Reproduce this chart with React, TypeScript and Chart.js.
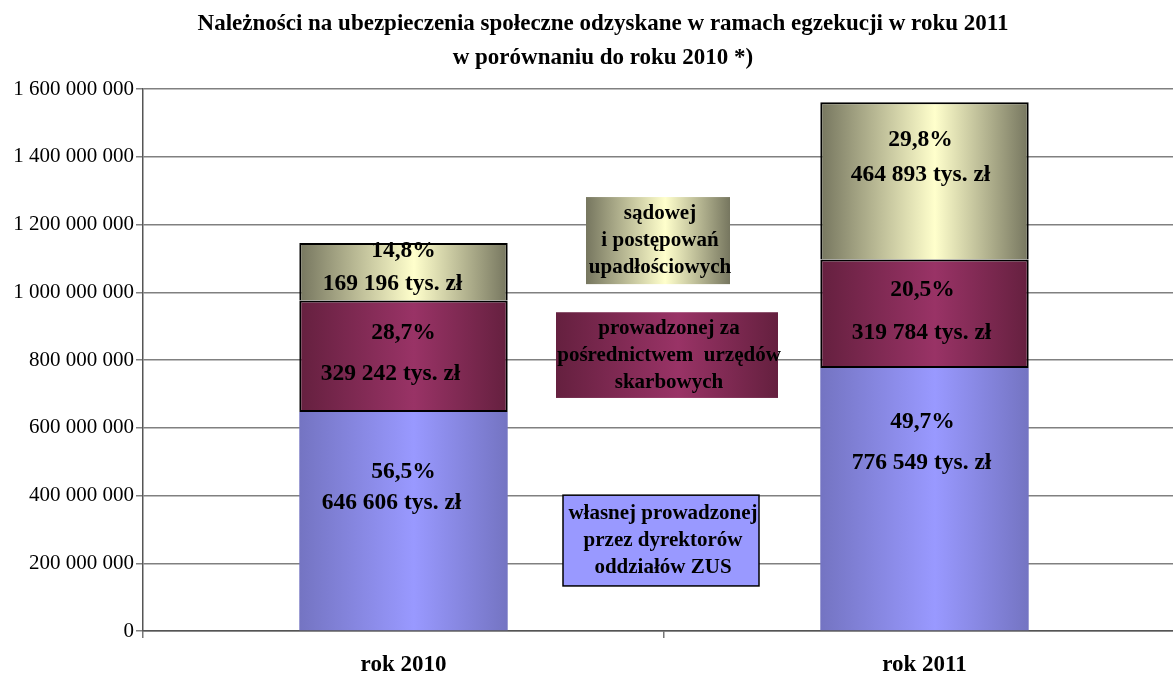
import React, { useEffect, useRef } from 'react';
import { Chart, registerables } from 'chart.js';

Chart.register(...registerables);

const titleLines = [
  'Należności na ubezpieczenia społeczne odzyskane w ramach egzekucji w roku 2011',
  'w porównaniu do roku 2010 *)',
];
const categories = ['rok 2010', 'rok 2011'];
const seriesNames = [
  ['własnej prowadzonej', 'przez dyrektorów', 'oddziałów ZUS'],
  ['prowadzonej za', 'pośrednictwem  urzędów', 'skarbowych'],
  ['sądowej', 'i postępowań', 'upadłościowych'],
];
// values in zł
const ownValues = [646606000, 776549000];
const taxOfficeValues = [329242000, 319784000];
const courtValues = [169196000, 464893000];
// percentage labels as printed
const ownPct = ['56,5%', '49,7%'];
const taxOfficePct = ['28,7%', '20,5%'];
const courtPct = ['14,8%', '29,8%'];
const yMax = 1600000000;
const yStep = 200000000;

const FONT = '"Liberation Serif", "Times New Roman", serif';

const groupDigits = (v: number) => String(Math.round(v)).replace(/\B(?=(\d{3})+(?!\d))/g, ' ');
const thousandsLabel = (v: number) => `${groupDigits(v / 1000)} tys. zł`;

// label layout per dataset per category: [dy from segment center, gap between lines, dx pct, dx value]
const labelLayout = [
  [[-34, 31, 0, -12], [-57, 41, -2, -3]],
  [[-3, 41, 0, -13], [-2, 43, -2, -3]],
  [[-4, 33, 0, -11], [-23, 35, -4, -4]],
];

const palette = [
  { light: '#9999FF', dark: '#7474C2' },
  { light: '#993366', dark: '#65203F' },
  { light: '#FFFFCC', dark: '#76765F' },
];

function barGradient(ctx: any, idx: number) {
  const chart = ctx.chart;
  const xs = chart.scales && chart.scales.x;
  const p = palette[idx];
  if (!xs || ctx.dataIndex === undefined || !xs.width) return p.light;
  const c = xs.getPixelForValue(ctx.dataIndex);
  const w = (xs.width / categories.length) * 0.4;
  const g = chart.ctx.createLinearGradient(c - w / 2, 0, c + w / 2, 0);
  g.addColorStop(0, p.dark);
  g.addColorStop(0.55, p.light);
  g.addColorStop(1, p.dark);
  return g;
}

const titleDraw = {
  id: 'titleDraw',
  afterDraw(chart: any) {
    const ctx = chart.ctx;
    ctx.save();
    ctx.font = `bold 23px ${FONT}`;
    ctx.fillStyle = '#000';
    ctx.textAlign = 'center';
    ctx.textBaseline = 'middle';
    const cx = chart.width / 2 + 8;
    titleLines.forEach((t, k) => ctx.fillText(t, cx, 24 + k * 34));
    ctx.restore();
  },
};

const segmentLabels = {
  id: 'segmentLabels',
  afterDatasetsDraw(chart: any) {
    const ctx = chart.ctx;
    const pcts = [ownPct, taxOfficePct, courtPct];
    ctx.save();
    ctx.font = `bold 23.5px ${FONT}`;
    ctx.fillStyle = '#000';
    ctx.textAlign = 'center';
    ctx.textBaseline = 'middle';
    chart.data.datasets.forEach((ds: any, di: number) => {
      const meta = chart.getDatasetMeta(di);
      meta.data.forEach((el: any, i: number) => {
        const [dy, gap, dxP, dxV] = labelLayout[di][i];
        const cy = (el.y + el.base) / 2 + dy;
        ctx.fillText(pcts[di][i], el.x + dxP, cy - gap / 2);
        ctx.fillText(thousandsLabel(ds.data[i]), el.x + dxV, cy + gap / 2);
      });
    });
    ctx.restore();
  },
};

// legend text boxes: [dx of center from category boundary, width, top value, bottom value]
const boxLayout = [
  [-3, 196, 401000000, 133000000],
  [3, 222, 941000000, 688000000],
  [-6, 144, 1281000000, 1024000000],
];

const legendBoxes = {
  id: 'legendBoxes',
  afterDraw(chart: any) {
    const ctx = chart.ctx;
    const xs = chart.scales.x;
    const ys = chart.scales.y;
    const mid = xs.getPixelForValue(0.5);
    ctx.save();
    boxLayout.forEach((b, i) => {
      const cx = mid + b[0];
      const w = b[1];
      const top = ys.getPixelForValue(b[2]);
      const bottom = ys.getPixelForValue(b[3]);
      const left = cx - w / 2;
      const p = palette[i];
      if (i === 0) {
        ctx.fillStyle = p.light;
      } else {
        const g = ctx.createLinearGradient(left, 0, left + w, 0);
        g.addColorStop(0, p.dark);
        g.addColorStop(0.55, p.light);
        g.addColorStop(1, p.dark);
        ctx.fillStyle = g;
      }
      ctx.fillRect(left, top, w, bottom - top);
      if (i === 0) {
        ctx.strokeStyle = '#000';
        ctx.lineWidth = 1.5;
        ctx.strokeRect(left, top, w, bottom - top);
      }
      ctx.fillStyle = '#000';
      ctx.font = `bold 21px ${FONT}`;
      ctx.textAlign = 'center';
      ctx.textBaseline = 'middle';
      const lines = seriesNames[i];
      const lh = 27;
      const cy = (top + bottom) / 2;
      lines.forEach((t, k) => {
        ctx.fillText(t, cx + 2, cy + (k - (lines.length - 1) / 2) * lh);
      });
    });
    ctx.restore();
  },
};

export default function App() {
  const ref = useRef<HTMLCanvasElement>(null);
  useEffect(() => {
    if (!ref.current) return;
    const chart = new Chart(ref.current, {
      type: 'bar',
      data: {
        labels: categories,
        datasets: [
          {
            label: seriesNames[0].join(' '),
            data: ownValues,
            backgroundColor: (c: any) => barGradient(c, 0),
            borderWidth: 0,
          },
          {
            label: seriesNames[1].join(' '),
            data: taxOfficeValues,
            backgroundColor: (c: any) => barGradient(c, 1),
            borderColor: '#000',
            borderWidth: 2,
            borderSkipped: false,
          },
          {
            label: seriesNames[2].join(' '),
            data: courtValues,
            backgroundColor: (c: any) => barGradient(c, 2),
            borderColor: '#000',
            borderWidth: 2,
            borderSkipped: 'start',
          },
        ],
      },
      options: {
        responsive: true,
        maintainAspectRatio: false,
        animation: false,
        layout: { padding: { right: 5, left: 0, top: 89, bottom: 0 } },
        datasets: { bar: { barPercentage: 0.4, categoryPercentage: 1 } },
        plugins: {
          legend: { display: false },
          tooltip: { enabled: false },
          title: { display: false },
        },
        scales: {
          x: {
            stacked: true,
            afterFit: (s: any) => { s.height = 46; },
            grid: {
              offset: true,
              drawOnChartArea: false,
              drawTicks: true,
              tickLength: 7,
              color: '#777',
              lineWidth: 1.5,
            },
            border: { color: '#555', width: 1.5 },
            ticks: {
              color: '#000',
              padding: 13,
              font: { family: FONT, size: 23, weight: 'bold' },
            },
          },
          y: {
            stacked: true,
            min: 0,
            max: yMax,
            afterFit: (s: any) => { s.width = 143; },
            grid: { color: '#808080', lineWidth: 1.5, tickLength: 7 },
            border: { color: '#555', width: 1.5 },
            ticks: {
              stepSize: yStep,
              color: '#000',
              padding: 2,
              font: { family: FONT, size: 21 },
              callback: (v: any) => groupDigits(Number(v)),
            },
          },
        },
      },
      plugins: [segmentLabels, legendBoxes, titleDraw],
    });
    return () => chart.destroy();
  }, []);
  return (
    <div style={{ position: 'fixed', left: 0, top: 0, width: 1173, height: 677, overflow: 'hidden', background: '#fff' }}>
      <div style={{ position: 'relative', width: 1190, height: 677 }}>
        <canvas ref={ref} />
      </div>
    </div>
  );
}
